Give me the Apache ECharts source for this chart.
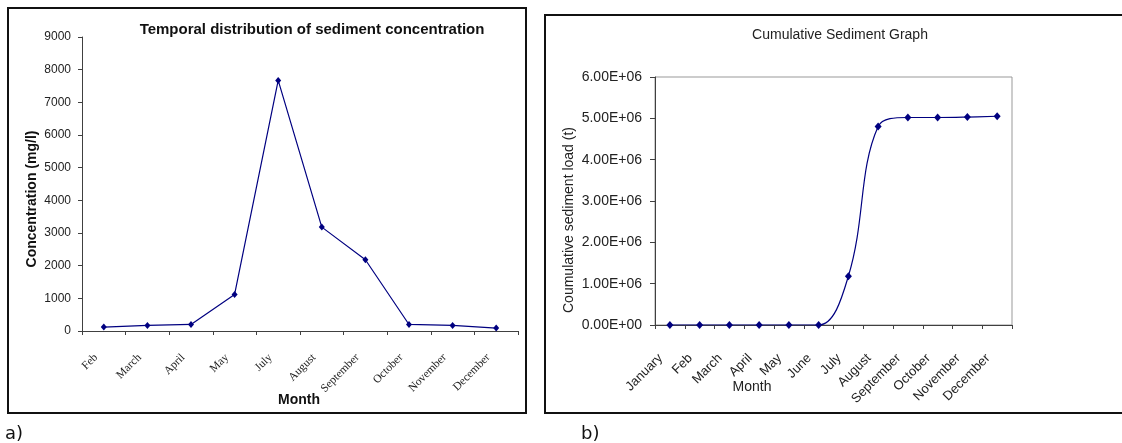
<!DOCTYPE html>
<html>
<head>
<meta charset="utf-8">
<script src="https://cdn.jsdelivr.net/npm/echarts@6/dist/echarts.min.js"></script>
<style>
html,body{margin:0;padding:0;background:#fff;}
#c{width:1122px;height:443px;}
</style>
</head>
<body>
<div id="c"></div>
<script>
// ---- data ----
var monthsA = ['Feb','March','April','May','July','August','September','October','November','December'];
var concentrationA = [120, 170, 200, 1120, 7670, 3180, 2180, 200, 170, 90];
var yTickLabelsA = ['0','1000','2000','3000','4000','5000','6000','7000','8000','9000'];
var monthsB = ['January','Feb','March','April','May','June','July','August','September','October','November','December'];
var cumulativeLoadB = [0, 0, 0, 0, 0, 0, 1180000, 4800000, 5020000, 5020000, 5030000, 5050000];
var yTickLabelsB = ['0.00E+00','1.00E+06','2.00E+06','3.00E+06','4.00E+06','5.00E+06','6.00E+06'];

var SANS = 'Liberation Sans, Arial, sans-serif';
var SERIF = 'Liberation Serif, Times New Roman, serif';
var LINE = '#000080';
var AX = '#404040';

var chart = echarts.init(document.getElementById('c'), null, {renderer:'canvas'});
chart.setOption({
  animation: false,
  backgroundColor: '#fff',
  grid: [
    {left: 82, top: 37, width: 436, height: 294, show: false},
    {left: 655, top: 77, width: 357, height: 248, show: true, borderColor: '#999', borderWidth: 1, backgroundColor: 'transparent'}
  ],
  xAxis: [
    {
      type: 'category', gridIndex: 0, data: monthsA, boundaryGap: true,
      axisLine: {lineStyle: {color: AX, width: 1}},
      axisTick: {show: true, length: 4, lineStyle: {color: AX}},
      axisLabel: {interval: 0, rotate: 45, margin: 17, padding: [0, 11, 0, 0],
        fontFamily: SERIF, fontSize: 11.5, color: '#222'},
      splitLine: {show: false}
    },
    {
      type: 'category', gridIndex: 1, data: monthsB, boundaryGap: true,
      axisLine: {lineStyle: {color: AX, width: 1}},
      axisTick: {show: true, length: 4, lineStyle: {color: AX}},
      axisLabel: {interval: 0, rotate: 45, margin: 22, padding: [0, 13, 0, 0],
        fontFamily: SANS, fontSize: 13, color: '#222'},
      splitLine: {show: false}
    }
  ],
  yAxis: [
    {
      type: 'value', gridIndex: 0, min: 0, max: 9000, interval: 1000,
      axisLine: {show: true, lineStyle: {color: AX, width: 1}},
      axisTick: {show: true, length: 4, lineStyle: {color: AX}},
      axisLabel: {margin: 11, fontFamily: SANS, fontSize: 12, color: '#222',
        formatter: function (v) { return yTickLabelsA[Math.round(v / 1000)]; }},
      splitLine: {show: false}
    },
    {
      type: 'value', gridIndex: 1, min: 0, max: 6000000, interval: 1000000,
      axisLine: {show: true, lineStyle: {color: AX, width: 1}},
      axisTick: {show: true, length: 5, lineStyle: {color: AX}},
      axisLabel: {margin: 13, fontFamily: SANS, fontSize: 14, color: '#222',
        formatter: function (v) { return yTickLabelsB[Math.round(v / 1000000)]; }},
      splitLine: {show: false}
    }
  ],
  series: [
    {
      type: 'line', xAxisIndex: 0, yAxisIndex: 0, data: concentrationA,
      symbol: 'diamond', symbolSize: [6, 7],
      lineStyle: {color: LINE, width: 1.2},
      itemStyle: {color: LINE}
    },
    {
      type: 'line', xAxisIndex: 1, yAxisIndex: 1, data: cumulativeLoadB,
      smooth: 0.4,
      symbol: 'diamond', symbolSize: [7, 8],
      lineStyle: {color: LINE, width: 1.2},
      itemStyle: {color: LINE}
    }
  ],
  graphic: [
    {type: 'rect', shape: {x: 8, y: 8, width: 518, height: 405}, style: {fill: 'none', stroke: '#111', lineWidth: 2}, silent: true},
    {type: 'rect', shape: {x: 545, y: 15, width: 600, height: 398}, style: {fill: 'none', stroke: '#111', lineWidth: 2}, silent: true},
    {type: 'text', x: 312, y: 30, style: {text: 'Temporal distribution of sediment concentration', fontFamily: SANS, fontSize: 15, fontWeight: 'bold', fill: '#111', align: 'center', verticalAlign: 'middle'}},
    {type: 'text', x: 840, y: 35, style: {text: 'Cumulative Sediment Graph', fontFamily: SANS, fontSize: 14, fill: '#222', align: 'center', verticalAlign: 'middle'}},
    {type: 'text', x: 32, y: 199, rotation: Math.PI / 2, style: {text: 'Concentration (mg/l)', fontFamily: SANS, fontSize: 14, fontWeight: 'bold', fill: '#111', align: 'center', verticalAlign: 'middle'}},
    {type: 'text', x: 569, y: 220, rotation: Math.PI / 2, style: {text: 'Coumulative sediment load (t)', fontFamily: SANS, fontSize: 14, fill: '#222', align: 'center', verticalAlign: 'middle'}},
    {type: 'text', x: 299, y: 400, style: {text: 'Month', fontFamily: SANS, fontSize: 14, fontWeight: 'bold', fill: '#111', align: 'center', verticalAlign: 'middle'}},
    {type: 'text', x: 752, y: 387, style: {text: 'Month', fontFamily: SANS, fontSize: 14, fill: '#222', align: 'center', verticalAlign: 'middle'}},
    {type: 'text', x: 5, y: 434, style: {text: 'a)', fontFamily: 'DejaVu Sans, Verdana, sans-serif', fontSize: 18, fill: '#111', align: 'left', verticalAlign: 'middle'}},
    {type: 'text', x: 581, y: 434, style: {text: 'b)', fontFamily: 'DejaVu Sans, Verdana, sans-serif', fontSize: 18, fill: '#111', align: 'left', verticalAlign: 'middle'}}
  ]
});
</script>
</body>
</html>
